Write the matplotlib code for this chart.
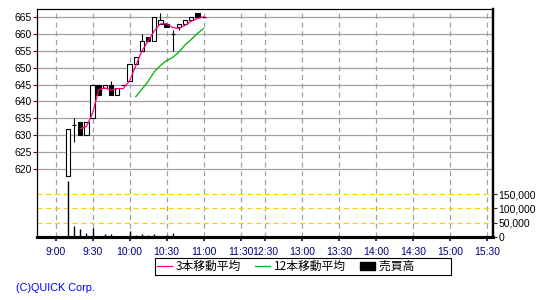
#!/usr/bin/env python3

import numpy as np
import matplotlib
matplotlib.use("Agg")
import matplotlib.pyplot as plt
from matplotlib.lines import Line2D
from matplotlib.patches import Patch

# bar time, minutes after 9:00 (5 minute bars)
times  = [10, 15, 20, 25, 30, 35, 40, 45, 50, 55, 60, 65,
          70, 75, 80, 85, 90, 95, 100, 105, 110, 115, 120]
opens  = [618, 633, 634, 630, 635, 645, 644, 645, 642, 645, 646, 651,
          655, 659, 658, 663, 663, 660, 662, 663, 664, 666, 665]
highs  = [632, 635, 634, 634, 645, 645, 645, 646, 644, 645, 651, 653,
          660, 659, 665, 666, 663, 661, 663, 664, 665, 666, 665]
lows   = [618, 628, 630, 630, 635, 642, 644, 642, 642, 645, 646, 651,
          655, 658, 658, 663, 662, 655, 661, 663, 664, 665, 665]
closes = [632, 633, 630, 634, 645, 642, 645, 642, 644, 645, 651, 653,
          658, 658, 665, 664, 662, 660, 663, 664, 665, 665, 665]
volume = [197000, 40000, 27000, 13000, 33000, 5000, 12000, 12000, 2000, 2000,
          22000, 8000, 12000, 8000, 12000, 2000, 8000, 15000, 5000, 2000,
          5000, 2000, 2000]
ma3  = [None, None, 632.0, 632.6, 636.5, 643.5, 644.0, 643.3, 643.8, 643.8,
        646.1, 650.5, 654.9, 657.8, 660.8, 662.9, 663.0, 661.8, 661.6, 662.5,
        663.7, 664.5, 665.0]
ma12 = [None] * 11 + [641.4, 643.6, 645.9, 648.8, 650.6, 652.1, 653.0, 654.6,
                      656.7, 658.3, 660.1, 661.5]

# axis ticks (lunch break squeezed to 20 minutes)
xtick_pos = [0, 30, 60, 90, 120, 150, 170, 200, 230, 260, 290, 320, 350]
xtick_lab = ['9:00', '9:30', '10:00', '10:30', '11:00', '11:30', '12:30',
             '13:00', '13:30', '14:00', '14:30', '15:00', '15:30']
price_ticks = [620, 625, 630, 635, 640, 645, 650, 655, 660, 665]
vol_ticks = [0, 50000, 100000, 150000]
vol_labels = ['0', '50,000', '100,000', '150,000']

plt.rcParams['font.family'] = ['Liberation Sans', 'Noto Sans CJK JP']

fig = plt.figure(figsize=(5.5, 3.0), dpi=100)
ax = fig.add_axes([37 / 550, 63 / 300, 456 / 550, 228 / 300])
ax2 = ax.twinx()

ax.set_xlim(-15, 354.5)
ax.set_ylim(600, 667.3)
ax2.set_ylim(0, 797000)

ax.set_axisbelow(True)
ax.set_yticks(price_ticks)
ax.set_xticks(xtick_pos)
ax.set_xticklabels(xtick_lab)
ax.yaxis.grid(True, color='#a0a0a0', linestyle='-', linewidth=0.9)
ax.xaxis.grid(True, color='#a0a0a0', linestyle=(0, (4, 3)), linewidth=0.9)

ax2.set_yticks(vol_ticks)
ax2.set_yticklabels(vol_labels)
ax2.yaxis.grid(True, color='#ffcc00', linestyle=(0, (4, 3)), linewidth=0.9)

# candles
for t, o, h, l, c in zip(times, opens, highs, lows, closes):
    ax.vlines(t, l, h, color='black', linewidth=0.8, zorder=3)
    fc = 'white' if c >= o else 'black'
    ax.bar(t, abs(c - o), bottom=min(o, c), width=3.6, facecolor=fc,
           edgecolor='black', linewidth=0.8, zorder=3)

ax.plot(times, np.array(ma3, dtype=float), color='#ff0080', linewidth=0.9, zorder=4)
ax.plot(times, np.array(ma12, dtype=float), color='#00b000', linewidth=0.9, zorder=4)

ax2.vlines(times, 0, volume, color='black', linewidth=1.0)

# frame
for a in (ax, ax2):
    a.spines['top'].set_linewidth(0.8)
    a.spines['left'].set_linewidth(0.8)
    a.spines['right'].set_linewidth(1.6)
    a.spines['bottom'].set_linewidth(2.2)

ax.tick_params(axis='y', direction='out', length=3, width=0.8, color='#800000',
               labelsize=7.5, labelcolor='black', pad=1)
ax2.tick_params(axis='y', direction='out', length=3, width=0.8, color='#800000',
                labelsize=7.5, labelcolor='black', pad=1)
ax.tick_params(axis='x', direction='out', length=3, width=1.2, color='#000080',
               labelsize=7.5, labelcolor='#000080', pad=4)

handles = [Line2D([], [], color='#ff0080', linewidth=0.9),
           Line2D([], [], color='#00b000', linewidth=0.9),
           Patch(facecolor='black', edgecolor='black')]
leg = fig.legend(handles, ['3本移動平均', '12本移動平均', '売買高\u3000\u3000\u3000'],
                 loc='center left', bbox_to_anchor=(155 / 550, 1 - 266.5 / 300),
                 ncol=3, frameon=True, fancybox=False, edgecolor='black',
                 framealpha=1, borderpad=0.15, handlelength=1.3,
                 handletextpad=0.3, columnspacing=1.2, borderaxespad=0,
                 prop={'family': ['Noto Sans CJK JP'], 'size': 8.5})
leg.get_frame().set_linewidth(0.8)

fig.text(16 / 550, 1 - 288 / 300, '(C)QUICK Corp.', color='#0000ff',
         fontsize=7.8, ha='left', va='center')

fig.savefig('out.png', dpi=100)
